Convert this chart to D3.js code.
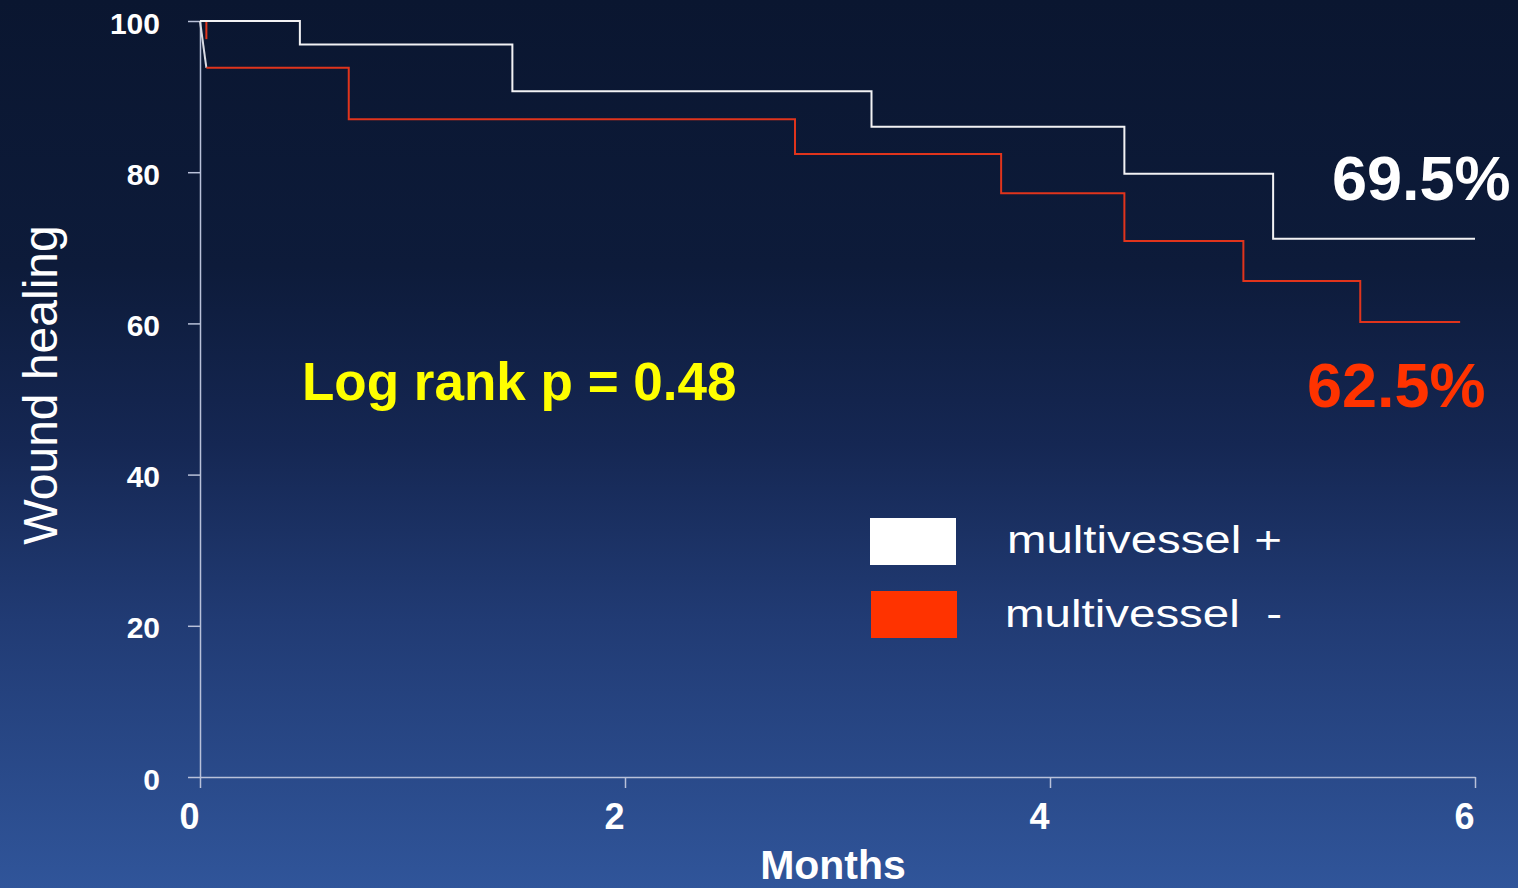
<!DOCTYPE html>
<html><head><meta charset="utf-8">
<script src="https://cdn.jsdelivr.net/npm/d3@7"></script>
<style>
body{margin:0;overflow:hidden;background:#0a1630}
svg{display:block}
text{font-family:"Liberation Sans",Arial,Helvetica,sans-serif}
</style>
</head><body><svg id="chart" width="1518" height="888"></svg>
<script>
// ---- data ----
const xTicks = [0, 2, 4, 6];
const yTicks = [0, 20, 40, 60, 80, 100];
const seriesNames = ["multivessel +", "multivessel  -"];
const plusTimes  = [0, 0.47, 1.47, 3.16, 4.35, 5.05, 6.0];
const plusValues = [100, 96.9, 90.7, 86.0, 79.8, 71.2, 71.2];
const minusTimes  = [0, 0.03, 0.70, 2.80, 3.77, 4.35, 4.91, 5.46, 5.93];
const minusValues = [100, 93.8, 87.0, 82.4, 77.2, 70.9, 65.6, 60.2, 60.2];
const minusCensor = [0.03];
const finalLabels = ["69.5%", "62.5%"];
const pValueText = "Log rank p = 0.48";
const xTitle = "Months";
const yTitle = "Wound healing";

// ---- drawing ----
const W = 1518, H = 888;
const svg = d3.select("#chart");
const defs = svg.append("defs");
const grad = defs.append("linearGradient").attr("id","bg").attr("x1",0).attr("y1",0).attr("x2",0).attr("y2",1);
[[0,"#0a1630"],[0.3,"#0d1b3a"],[0.5,"#152753"],[0.7,"#213b74"],[1,"#30559a"]].forEach(([o,c])=>
  grad.append("stop").attr("offset",o).attr("stop-color",c));
svg.append("rect").attr("width",W).attr("height",H).attr("fill","url(#bg)");

const x = d3.scaleLinear().domain([0,6]).range([200,1475]);
const y = d3.scaleLinear().domain([0,100]).range([777,21]);
const axisColor = "#b9c1d9";

// y axis
const gy = svg.append("g").attr("transform",`translate(${x(0)},0)`)
  .call(d3.axisLeft(y).tickValues(yTicks).tickFormat(d3.format("d")).tickSize(12).tickSizeOuter(0).tickPadding(28));
gy.select(".domain").attr("stroke",axisColor).attr("stroke-width",1.5);
gy.selectAll(".tick line").attr("stroke",axisColor).attr("stroke-width",1.5);
gy.selectAll(".tick text").attr("fill","#fff").attr("font-size",30).attr("font-weight","bold")
  .attr("font-family","'Liberation Sans',Arial,sans-serif").attr("dy","0.4em");

// x axis
const gx = svg.append("g").attr("transform",`translate(0,${y(0)})`)
  .call(d3.axisBottom(x).tickValues(xTicks).tickFormat(d3.format("d")).tickSize(11).tickSizeOuter(0).tickPadding(0));
gx.select(".domain").attr("stroke",axisColor).attr("stroke-width",1.5);
gx.selectAll(".tick line").attr("stroke",axisColor).attr("stroke-width",1.5);
gx.selectAll(".tick text").attr("fill","#fff").attr("font-size",36).attr("font-weight","bold")
  .attr("font-family","'Liberation Sans',Arial,sans-serif").attr("x",-11).attr("y",52).attr("dy",0);

// curves
const step = d3.line().x(d=>x(d[0])).y(d=>y(d[1])).curve(d3.curveStepAfter);
const lin = d3.line().x(d=>x(d[0])).y(d=>y(d[1]));
const plusPts = plusTimes.map((t,i)=>[t,plusValues[i]]);
const minusPts = minusTimes.map((t,i)=>[t,minusValues[i]]);

svg.append("path").attr("d",lin(minusPts.slice(0,2))).attr("fill","none")
  .attr("stroke","#d9dbe4").attr("stroke-width",2);
svg.append("path").attr("d",step(minusPts.slice(1))).attr("fill","none")
  .attr("stroke","#e0341c").attr("stroke-width",2);
minusCensor.forEach(t=>{
  svg.append("line").attr("x1",x(t)).attr("x2",x(t)).attr("y1",y(100)).attr("y2",y(97.6))
    .attr("stroke","#e0341c").attr("stroke-width",2);
});
svg.append("path").attr("d",step(plusPts)).attr("fill","none")
  .attr("stroke","#f2f2f4").attr("stroke-width",2);

// annotations
svg.append("text").attr("x",1332).attr("y",200).attr("fill","#fff")
  .attr("font-size",63).attr("font-weight","bold").text(finalLabels[0]);
svg.append("text").attr("x",1307).attr("y",407).attr("fill","#ff3300")
  .attr("font-size",63).attr("font-weight","bold").text(finalLabels[1]);
svg.append("text").attr("x",302).attr("y",400).attr("fill","#ffff00")
  .attr("font-size",53).attr("font-weight","bold").text(pValueText);

// legend
const legendColors = ["#ffffff","#ff3300"];
const legendRows = [{rx:870,ry:518,tx:1007,ty:553,tl:275},{rx:871,ry:591,tx:1005,ty:627,tl:277}];
seriesNames.forEach((name,i)=>{
  const r = legendRows[i];
  svg.append("rect").attr("x",r.rx).attr("y",r.ry).attr("width",86).attr("height",47).attr("fill",legendColors[i]);
  svg.append("text").attr("x",r.tx).attr("y",r.ty).attr("fill","#fff").attr("font-size",39)
    .style("white-space","pre").attr("textLength",r.tl).attr("lengthAdjust","spacingAndGlyphs").text(name);
});

// titles
svg.append("text").attr("x",833).attr("y",879).attr("text-anchor","middle").attr("fill","#fff")
  .attr("font-size",41).attr("font-weight","bold").text(xTitle);
svg.append("text").attr("transform","translate(57,385) rotate(-90)").attr("text-anchor","middle")
  .attr("fill","#fff").attr("font-size",48).text(yTitle);
</script>
</body></html>
